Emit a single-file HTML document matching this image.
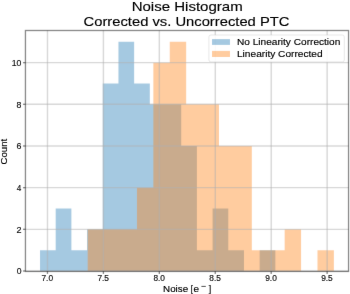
<!DOCTYPE html><html><head><meta charset="utf-8"><style>html,body{margin:0;padding:0;background:#fff;width:350px;height:294px;overflow:hidden}svg{display:block}</style></head><body><svg width="350" height="294" viewBox="0 0 350 294">
<defs><filter id="bl" x="-5" y="-5" width="360" height="304" filterUnits="userSpaceOnUse"><feConvolveMatrix order="3" kernelMatrix="0.00524 0.06192 0.00524 0.06192 0.73137 0.06192 0.00524 0.06192 0.00524" edgeMode="duplicate" preserveAlpha="true"/></filter></defs><g filter="url(#bl)">
<rect x="-10" y="-10" width="370" height="314" fill="#fff"/>
<path d="M40.00,271.00 L40.00,250.16 L55.69,250.16 L55.69,208.49 L71.38,208.49 L71.38,250.16 L87.07,250.16 L87.07,229.33 L102.76,229.33 L102.76,83.48 L118.45,83.48 L118.45,41.80 L134.14,41.80 L134.14,83.48 L149.83,83.48 L149.83,104.31 L165.52,104.31 L165.52,104.31 L181.21,104.31 L181.21,145.98 L196.90,145.98 L196.90,250.16 L212.59,250.16 L212.59,208.49 L228.28,208.49 L228.28,250.16 L243.97,250.16 L243.97,271.00 L259.66,271.00 L259.66,250.16 L275.35,250.16 L275.35,271.00 Z" fill="#1f77b4" fill-opacity="0.4"/>
<path d="M87.70,271.00 L87.70,229.33 L104.11,229.33 L104.11,229.33 L120.53,229.33 L120.53,229.33 L136.94,229.33 L136.94,187.66 L153.35,187.66 L153.35,62.64 L169.77,62.64 L169.76,41.80 L186.18,41.80 L186.18,104.31 L202.59,104.31 L202.59,104.31 L219.00,104.31 L219.00,145.98 L235.42,145.98 L235.42,145.98 L251.83,145.98 L251.83,250.16 L268.24,250.16 L268.24,250.16 L284.66,250.16 L284.66,229.33 L301.07,229.33 L301.07,271.00 L317.48,271.00 L317.48,250.16 L333.90,250.16 L333.89,271.00 Z" fill="#ff7f0e" fill-opacity="0.4"/>
<line x1="47.47" y1="30.5" x2="47.47" y2="271.45" stroke="#b0b0b0" stroke-opacity="0.5" stroke-width="1.4"/>
<line x1="103.41" y1="30.5" x2="103.41" y2="271.45" stroke="#b0b0b0" stroke-opacity="0.5" stroke-width="1.4"/>
<line x1="159.34" y1="30.5" x2="159.34" y2="271.45" stroke="#b0b0b0" stroke-opacity="0.5" stroke-width="1.4"/>
<line x1="215.28" y1="30.5" x2="215.28" y2="271.45" stroke="#b0b0b0" stroke-opacity="0.5" stroke-width="1.4"/>
<line x1="271.21" y1="30.5" x2="271.21" y2="271.45" stroke="#b0b0b0" stroke-opacity="0.5" stroke-width="1.4"/>
<line x1="327.14" y1="30.5" x2="327.14" y2="271.45" stroke="#b0b0b0" stroke-opacity="0.5" stroke-width="1.4"/>
<line x1="25.45" y1="271.00" x2="348.55" y2="271.00" stroke="#b0b0b0" stroke-opacity="0.5" stroke-width="1.4"/>
<line x1="25.45" y1="229.33" x2="348.55" y2="229.33" stroke="#b0b0b0" stroke-opacity="0.5" stroke-width="1.4"/>
<line x1="25.45" y1="187.66" x2="348.55" y2="187.66" stroke="#b0b0b0" stroke-opacity="0.5" stroke-width="1.4"/>
<line x1="25.45" y1="145.98" x2="348.55" y2="145.98" stroke="#b0b0b0" stroke-opacity="0.5" stroke-width="1.4"/>
<line x1="25.45" y1="104.31" x2="348.55" y2="104.31" stroke="#b0b0b0" stroke-opacity="0.5" stroke-width="1.4"/>
<line x1="25.45" y1="62.64" x2="348.55" y2="62.64" stroke="#b0b0b0" stroke-opacity="0.5" stroke-width="1.4"/>
<rect x="25.45" y="30.5" width="323.10" height="240.95" fill="none" stroke="#000" stroke-opacity="0.5" stroke-width="1.3"/>
<line x1="47.47" y1="271.45" x2="47.47" y2="273.95" stroke="#000" stroke-opacity="0.5" stroke-width="1.3"/>
<line x1="103.41" y1="271.45" x2="103.41" y2="273.95" stroke="#000" stroke-opacity="0.5" stroke-width="1.3"/>
<line x1="159.34" y1="271.45" x2="159.34" y2="273.95" stroke="#000" stroke-opacity="0.5" stroke-width="1.3"/>
<line x1="215.28" y1="271.45" x2="215.28" y2="273.95" stroke="#000" stroke-opacity="0.5" stroke-width="1.3"/>
<line x1="271.21" y1="271.45" x2="271.21" y2="273.95" stroke="#000" stroke-opacity="0.5" stroke-width="1.3"/>
<line x1="327.14" y1="271.45" x2="327.14" y2="273.95" stroke="#000" stroke-opacity="0.5" stroke-width="1.3"/>
<line x1="22.95" y1="271.00" x2="25.45" y2="271.00" stroke="#000" stroke-opacity="0.5" stroke-width="1.3"/>
<line x1="22.95" y1="229.33" x2="25.45" y2="229.33" stroke="#000" stroke-opacity="0.5" stroke-width="1.3"/>
<line x1="22.95" y1="187.66" x2="25.45" y2="187.66" stroke="#000" stroke-opacity="0.5" stroke-width="1.3"/>
<line x1="22.95" y1="145.98" x2="25.45" y2="145.98" stroke="#000" stroke-opacity="0.5" stroke-width="1.3"/>
<line x1="22.95" y1="104.31" x2="25.45" y2="104.31" stroke="#000" stroke-opacity="0.5" stroke-width="1.3"/>
<line x1="22.95" y1="62.64" x2="25.45" y2="62.64" stroke="#000" stroke-opacity="0.5" stroke-width="1.3"/>
<rect x="208.9" y="35.0" width="135.4" height="26.9" rx="2" ry="2" fill="#fff" fill-opacity="0.9" stroke="#ccc" stroke-opacity="0.6" stroke-width="0.8"/>
<rect x="212" y="39.1" width="18" height="5.8" fill="#1f77b4" fill-opacity="0.4"/>
<rect x="212" y="50.9" width="18" height="6.1" fill="#ff7f0e" fill-opacity="0.4"/>
</g>
<defs><filter id="bt" x="-5" y="-5" width="360" height="304" filterUnits="userSpaceOnUse"><feConvolveMatrix order="3" kernelMatrix="0.00163 0.03713 0.00163 0.03713 0.84497 0.03713 0.00163 0.03713 0.00163" edgeMode="none" preserveAlpha="false"/></filter></defs><g filter="url(#bt)" stroke="#000" stroke-width="0.15">
<text x="41.45" y="281.00" font-size="8.5" font-family="Liberation Sans, sans-serif" fill="#111" textLength="11.63" lengthAdjust="spacingAndGlyphs" >7.0</text>
<text x="97.39" y="281.00" font-size="8.5" font-family="Liberation Sans, sans-serif" fill="#111" textLength="11.66" lengthAdjust="spacingAndGlyphs" >7.5</text>
<text x="153.39" y="281.00" font-size="8.5" font-family="Liberation Sans, sans-serif" fill="#111" textLength="11.57" lengthAdjust="spacingAndGlyphs" >8.0</text>
<text x="209.32" y="281.00" font-size="8.5" font-family="Liberation Sans, sans-serif" fill="#111" textLength="11.59" lengthAdjust="spacingAndGlyphs" >8.5</text>
<text x="265.21" y="281.00" font-size="8.5" font-family="Liberation Sans, sans-serif" fill="#111" textLength="11.61" lengthAdjust="spacingAndGlyphs" >9.0</text>
<text x="321.15" y="281.00" font-size="8.5" font-family="Liberation Sans, sans-serif" fill="#111" textLength="11.63" lengthAdjust="spacingAndGlyphs" >9.5</text>
<text x="16.66" y="274.35" font-size="8.5" font-family="Liberation Sans, sans-serif" fill="#111" textLength="4.78" lengthAdjust="spacingAndGlyphs" >0</text>
<text x="16.55" y="232.68" font-size="8.5" font-family="Liberation Sans, sans-serif" fill="#111" textLength="5.01" lengthAdjust="spacingAndGlyphs" >2</text>
<text x="16.82" y="191.01" font-size="8.5" font-family="Liberation Sans, sans-serif" fill="#111" textLength="4.52" lengthAdjust="spacingAndGlyphs" >4</text>
<text x="16.56" y="149.33" font-size="8.5" font-family="Liberation Sans, sans-serif" fill="#111" textLength="4.93" lengthAdjust="spacingAndGlyphs" >6</text>
<text x="16.63" y="107.66" font-size="8.5" font-family="Liberation Sans, sans-serif" fill="#111" textLength="4.85" lengthAdjust="spacingAndGlyphs" >8</text>
<text x="11.75" y="65.99" font-size="8.5" font-family="Liberation Sans, sans-serif" fill="#111" textLength="9.70" lengthAdjust="spacingAndGlyphs" >10</text>
<text x="163.09" y="291.80" font-size="9.4" font-family="Liberation Sans, sans-serif" fill="#000" textLength="25.04" lengthAdjust="spacingAndGlyphs" >Noise</text>
<text x="190.84" y="291.80" font-size="9.4" font-family="Liberation Sans, sans-serif" fill="#000" textLength="2.22" lengthAdjust="spacingAndGlyphs" >[</text>
<text x="193.57" y="291.80" font-size="9.4" font-family="Liberation Sans, sans-serif" fill="#000" textLength="5.56" lengthAdjust="spacingAndGlyphs" >e</text>
<rect x="201.4" y="285.9" width="4.4" height="0.9" fill="#000" fill-opacity="0.75" stroke="none"/>
<text x="208.83" y="291.80" font-size="9.4" font-family="Liberation Sans, sans-serif" fill="#000" textLength="2.50" lengthAdjust="spacingAndGlyphs" >]</text>
<text transform="translate(7.10,0.00) rotate(-90)" x="-164.48" y="0" font-size="9.4" font-family="Liberation Sans, sans-serif" fill="#000" textLength="25.77" lengthAdjust="spacingAndGlyphs" >Count</text>
<text x="131.66" y="11.00" font-size="13.6" font-family="Liberation Sans, sans-serif" fill="#000" textLength="111.04" lengthAdjust="spacingAndGlyphs" >Noise Histogram</text>
<text x="83.56" y="26.00" font-size="13.6" font-family="Liberation Sans, sans-serif" fill="#000" textLength="205.88" lengthAdjust="spacingAndGlyphs" >Corrected vs. Uncorrected PTC</text>
<text x="236.97" y="44.70" font-size="9.4" font-family="Liberation Sans, sans-serif" fill="#000" textLength="103.39" lengthAdjust="spacingAndGlyphs" >No Linearity Correction</text>
<text x="236.96" y="57.10" font-size="9.4" font-family="Liberation Sans, sans-serif" fill="#000" textLength="85.68" lengthAdjust="spacingAndGlyphs" >Linearity Corrected</text>
</g></svg></body></html>
